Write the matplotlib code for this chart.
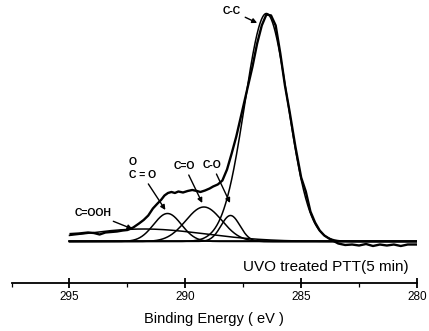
import numpy as np
import matplotlib.pyplot as plt
from matplotlib.ticker import MultipleLocator

plt.rcParams['font.family'] = ['Liberation Sans', 'DejaVu Sans']

# raw C1s spectrum (binding energy eV, intensity above baseline)
energy_raw = [294.95, 294.6, 294.2, 293.95, 293.7, 293.45, 293.2, 292.95, 292.7, 292.5,
              292.25, 292.0, 291.8, 291.6, 291.4, 291.2, 291.05, 290.9, 290.75, 290.6,
              290.45, 290.3, 290.1, 289.9, 289.7, 289.5, 289.35, 289.15, 288.95, 288.8,
              288.6, 288.4, 288.2, 288.0, 287.8, 287.6, 287.35, 287.1, 286.9, 286.7,
              286.5, 286.3, 286.1, 285.9, 285.7, 285.5, 285.25, 285.0, 284.8, 284.6,
              284.4, 284.2, 284.0, 283.8, 283.6, 283.4, 283.1, 282.8, 282.5, 282.2,
              281.9, 281.6, 281.3, 281.0, 280.7, 280.4, 280.0]
intensity_raw = [7.5, 8.0, 9.0, 8.5, 7.0, 9.0, 9.5, 10.0, 11.0, 11.5,
                 14.0, 18.0, 21.5, 26.0, 33.0, 38.0, 41.5, 46.0, 48.5, 49.5,
                 48.5, 50.0, 49.0, 50.5, 51.5, 50.5, 49.5, 51.0, 53.0, 55.0,
                 57.0, 61.0, 72.0, 88.0, 105.0, 125.0, 150.0, 175.0, 198.0, 216.0,
                 227.0, 226.0, 216.0, 188.0, 156.0, 130.0, 95.0, 64.0, 50.0, 30.0,
                 19.0, 11.0, 6.0, 3.0, 0.5, -2.0, -3.5, -3.0, -4.0, -2.5,
                 -4.5, -3.0, -4.0, -3.0, -4.5, -3.0, -3.0]

# fitted components: label, centre (eV), height, sigma (eV)
comp_names = ['C-C', 'C-O', 'C=O', 'O-C=O', 'C=OOH']
comp_centre = [286.5, 288.05, 289.2, 290.77, 291.8]
comp_height = [228, 26, 34.5, 28, 12.5]
comp_sigma = [0.93, 0.41, 0.78, 0.6, 2.66]

fig = plt.figure(figsize=(4.29, 3.31), dpi=100)
ax = fig.add_axes([0.027, 0.145, 0.945, 0.84])

e = np.linspace(295, 280, 800)
ax.plot([295, 280], [0, 0], color='black', lw=1.2)
for c, h, s in zip(comp_centre, comp_height, comp_sigma):
    ax.plot(e, h * np.exp(-(e - c) ** 2 / (2 * s ** 2)), color='black', lw=1.1)
ax.plot(energy_raw, intensity_raw, color='black', lw=1.7)

arrow = dict(arrowstyle='-|>', color='black', lw=1.0, mutation_scale=7, shrinkA=1, shrinkB=0)
lab = dict(fontsize=7.5, fontweight='bold', ha='center', va='center')
ax.annotate('C-C', xy=(286.9, 218.5), xytext=(287.98, 230.5), arrowprops=arrow, **lab)
ax.text(292.28, 79.5, 'O', **lab)
ax.annotate('C = O', xy=(290.86, 31.5), xytext=(291.85, 66.5), arrowprops=arrow, **lab)
ax.annotate('C=O', xy=(289.27, 38.5), xytext=(290.04, 75.5), arrowprops=arrow, **lab)
ax.annotate('C-O', xy=(288.07, 38.5), xytext=(288.84, 76.5), arrowprops=arrow, **lab)
ax.annotate('C=OOH', xy=(292.28, 12.5), xytext=(294.0, 28.5), arrowprops=arrow, **lab)

ax.text(283.94, -25.5, 'UVO treated PTT(5 min)', fontsize=11, ha='center', va='center')

ax.set_xlim(297.5, 280)
ax.set_ylim(-41.5, 236.5)
ax.xaxis.set_major_locator(MultipleLocator(5))
ax.xaxis.set_minor_locator(MultipleLocator(2.5))
ax.tick_params(axis='x', which='major', direction='inout', length=7, width=1.3, labelsize=8.5, pad=2)
ax.tick_params(axis='x', which='minor', direction='out', length=3, width=0.9)
ax.set_yticks([])
for side in ['top', 'left', 'right']:
    ax.spines[side].set_visible(False)
ax.spines['bottom'].set_linewidth(1.3)
ax.set_xlabel('Binding Energy ( eV )', fontsize=10.5, labelpad=7)

fig.savefig('out.png', dpi=100)
